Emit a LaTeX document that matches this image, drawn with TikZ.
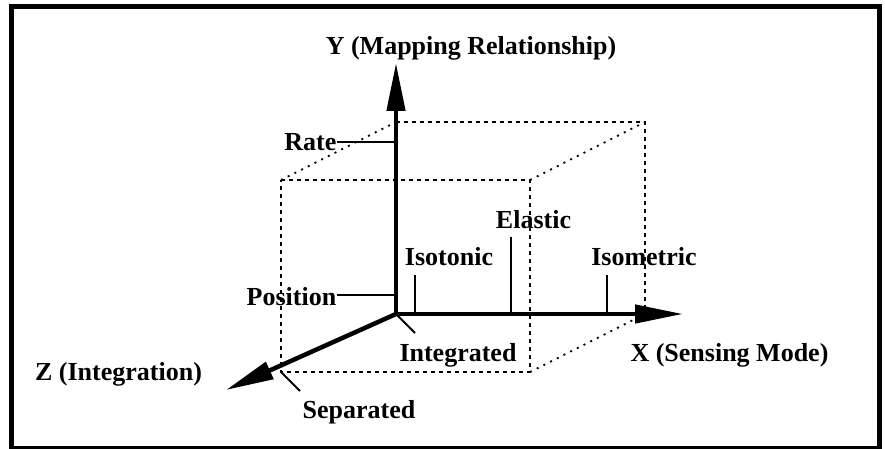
\documentclass[tikz,border=0pt]{standalone}
\usepackage{fontspec}
\setmainfont{Liberation Serif}
\usetikzlibrary{arrows.meta}
\begin{document}
\begin{tikzpicture}[x=1pt,y=-1pt,
  lbl/.style={font=\fontsize{26}{30}\selectfont\bfseries, inner sep=0pt},
  axisline/.style={line width=4.5pt, line cap=rect, -{Triangle[length=48pt,width=18pt]}},
  tickline/.style={line width=2pt},
  cubeedge/.style={line width=2.4pt, dash pattern=on 4pt off 4pt},
  cubediag/.style={line width=1.8pt, dash pattern=on 2pt off 5.5pt}]
\useasboundingbox (0,0) rectangle (885,449);
\draw[line width=5pt] (11.5,6.8) rectangle (879.5,448.5);
% cube corners
\coordinate (F1) at (281,180);
\coordinate (F2) at (530,180);
\coordinate (F3) at (530,372);
\coordinate (F4) at (281,372);
\coordinate (B1) at (396,122);
\coordinate (B2) at (645,122);
\coordinate (B3) at (645,314);
% cube
\draw[cubeedge] (F1) -- (F2) -- (F3) -- (F4) -- cycle;
\draw[cubeedge] (B1) -- (B2) -- (B3);
\draw[cubediag] (F1) -- (B1);
\draw[cubediag] (F2) -- (B2);
\draw[cubediag] (F3) -- (B3);
% axes
\coordinate (O) at (396,314);
\coordinate (ytip) at (396,63);
\coordinate (xtip) at (683,314);
\coordinate (ztip) at (226,390);
\draw[axisline] (O) -- (ytip);
\draw[axisline] (O) -- (xtip);
\draw[axisline] (O) -- (ztip);
% labels
\node[lbl, anchor=base] (ylab) at (471,55) {Y (Mapping Relationship)};
\node[lbl, anchor=base east] (rate) at (336.5,150) {Rate};
\node[lbl, anchor=base east] (pos) at (336.5,305) {Position};
\node[lbl, anchor=base] (isot) at (449,265) {Isotonic};
\node[lbl, anchor=base] (elas) at (533.5,228.5) {Elastic};
\node[lbl, anchor=base] (isom) at (644,265) {Isometric};
\node[lbl, anchor=base] (integ) at (458,361) {Integrated};
\node[lbl, anchor=base] (xlab) at (729.5,361.5) {X (Sensing Mode)};
\node[lbl, anchor=base] (zlab) at (118.5,380) {Z (Integration)};
\node[lbl, anchor=base] (sep) at (359,418) {Separated};
% ticks
\coordinate (rateY) at (396,141.7);
\coordinate (posY) at (396,295);
\draw[tickline] (rate.east |- rateY) -- (rateY);
\draw[tickline] (pos.east |- posY) -- (posY);
\coordinate (isotT) at (415,275);
\coordinate (isotB) at (415,314);
\coordinate (elasT) at (511,236.7);
\coordinate (elasB) at (511,314);
\coordinate (isomT) at (607.3,275);
\coordinate (isomB) at (607.3,314);
\draw[tickline] (isotT) -- (isotB);
\draw[tickline] (elasT) -- (elasB);
\draw[tickline] (isomT) -- (isomB);
\coordinate (integE) at (415,333);
\draw[tickline] (O) -- (integE);
\coordinate (sepE) at (300,391);
\draw[tickline] (F4) -- (sepE);
\end{tikzpicture}
\end{document}
